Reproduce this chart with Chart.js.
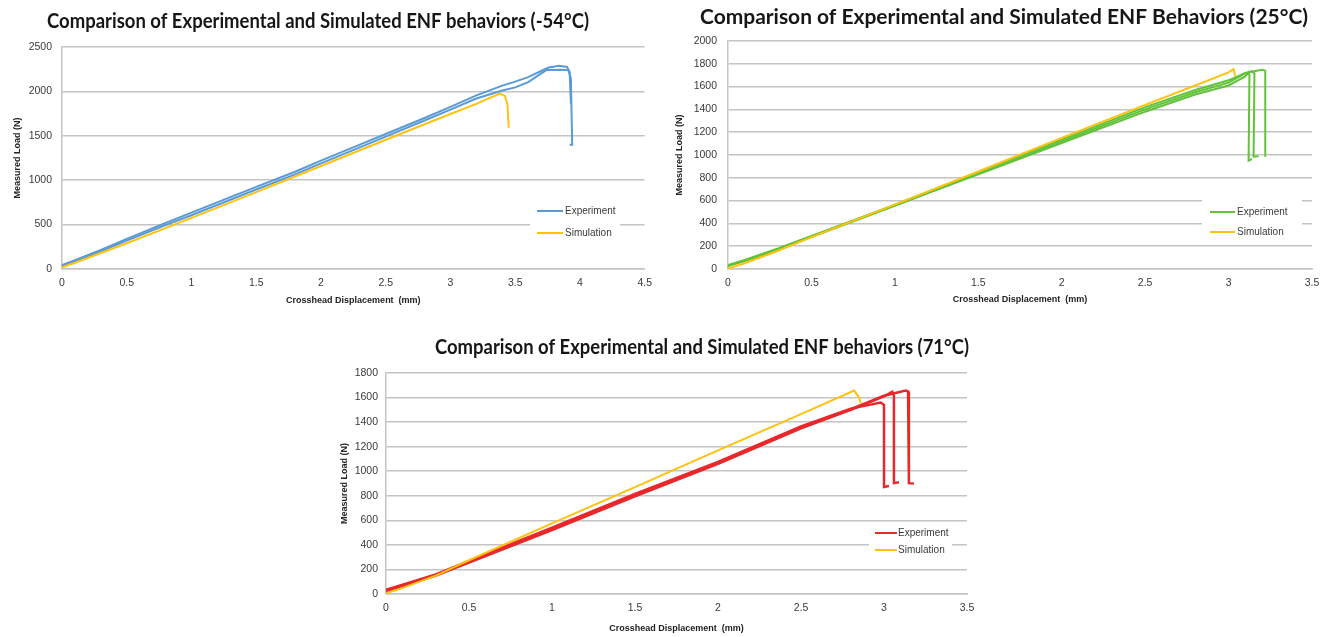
<!DOCTYPE html>
<html>
<head>
<meta charset="utf-8">
<title>ENF behaviors</title>
<script src="https://cdn.jsdelivr.net/npm/chart.js@4.4.1/dist/chart.umd.min.js"></script>
<style>
  body { margin: 0; background: #fff; }
  .panel { position: absolute; }
</style>
</head>
<body>
<div class="panel" style="left:0;top:0"><canvas id="chartCold" width="660" height="315"></canvas></div>
<div class="panel" style="left:660px;top:0"><canvas id="chartRoom" width="672" height="315"></canvas></div>
<div class="panel" style="left:330px;top:325px"><canvas id="chartHot" width="672" height="312"></canvas></div>
<script>
const seriesNames = ['Experiment', 'Simulation'];

// -54°C : displacement (mm) / load (N)
const coldExpA_x = [0, 0.1, 0.3, 0.5, 0.8, 1, 1.3, 1.5, 1.8, 2, 2.3, 2.5, 2.8, 3, 3.2, 3.4, 3.5, 3.6, 3.7, 3.76, 3.84, 3.9, 3.92, 3.93, 3.93];
const coldExpA_y = [45, 100, 215, 340, 520, 635, 810, 925, 1095, 1220, 1400, 1520, 1700, 1825, 1955, 2065, 2110, 2160, 2230, 2270, 2290, 2275, 2220, 1870, 1860];
const coldExpB_x = [0, 0.1, 0.3, 0.5, 0.8, 1, 1.3, 1.5, 1.8, 2, 2.3, 2.5, 2.8, 3, 3.2, 3.4, 3.5, 3.6, 3.74, 3.85, 3.91, 3.93, 3.94, 3.92];
const coldExpB_y = [30, 85, 200, 320, 495, 605, 780, 895, 1065, 1190, 1370, 1490, 1672, 1795, 1920, 2010, 2045, 2105, 2240, 2245, 2240, 2150, 1400, 1400];
const coldSim_x = [0, 0.1, 0.3, 0.5, 1, 1.5, 2, 2.5, 2.8, 3, 3.2, 3.38, 3.42, 3.44, 3.45];
const coldSim_y = [20, 70, 180, 290, 575, 865, 1160, 1455, 1630, 1745, 1860, 1975, 1950, 1850, 1590];
const coldTicksX = [0, 0.5, 1, 1.5, 2, 2.5, 3, 3.5, 4, 4.5];
const coldTicksY = [0, 500, 1000, 1500, 2000, 2500];

// 25°C
const roomExpA_x = [0, 0.1, 0.3, 0.5, 1, 1.5, 2, 2.5, 2.8, 3.0, 3.1, 3.12, 3.125, 3.12, 3.14];
const roomExpA_y = [35, 80, 180, 290, 560, 830, 1105, 1380, 1530, 1610, 1690, 1725, 1700, 950, 965];
const roomExpB_x = [0, 0.1, 0.3, 0.5, 1, 1.5, 2, 2.5, 2.8, 3, 3.1, 3.14, 3.155, 3.15, 3.18];
const roomExpB_y = [25, 70, 170, 280, 555, 835, 1120, 1400, 1550, 1635, 1715, 1735, 1715, 985, 990];
const roomExpC_x = [0, 0.1, 0.3, 0.5, 1, 1.5, 2, 2.5, 2.8, 3, 3.1, 3.2, 3.22, 3.22, 3.225];
const roomExpC_y = [30, 75, 175, 285, 565, 850, 1135, 1420, 1570, 1655, 1720, 1748, 1740, 994, 994];
const roomSim_x = [0, 0.1, 0.3, 0.5, 1, 1.5, 2, 2.5, 2.8, 3.0, 3.03, 3.04];
const roomSim_y = [5, 50, 160, 280, 565, 855, 1150, 1440, 1610, 1725, 1754, 1690];
const roomTicksX = [0, 0.5, 1, 1.5, 2, 2.5, 3, 3.5];
const roomTicksY = [0, 200, 400, 600, 800, 1000, 1200, 1400, 1600, 1800, 2000];

// 71°C
const hotExpA_x = [0, 0.1, 0.3, 0.5, 1, 1.5, 2, 2.5, 2.8, 2.98, 3.0, 3.0, 3.0, 3.03];
const hotExpA_y = [35, 75, 160, 270, 540, 815, 1075, 1365, 1510, 1559, 1540, 1500, 871, 880];
const hotExpB_x = [0, 0.1, 0.3, 0.5, 1, 1.5, 2, 2.5, 2.8, 3.0, 3.05, 3.06, 3.06, 3.09];
const hotExpB_y = [25, 65, 150, 255, 520, 795, 1060, 1350, 1500, 1610, 1648, 1615, 903, 910];
const hotExpC_x = [0, 0.1, 0.3, 0.5, 1, 1.5, 2, 2.5, 2.8, 3.0, 3.13, 3.145, 3.15, 3.15, 3.18];
const hotExpC_y = [30, 70, 155, 265, 530, 805, 1070, 1360, 1505, 1615, 1657, 1650, 1620, 903, 900];
const hotSim_x = [0, 0.1, 0.3, 0.5, 1, 1.5, 2, 2.5, 2.82, 2.85, 2.86];
const hotSim_y = [5, 50, 150, 275, 575, 870, 1170, 1465, 1657, 1600, 1554];
const hotTicksX = [0, 0.5, 1, 1.5, 2, 2.5, 3, 3.5];
const hotTicksY = [0, 200, 400, 600, 800, 1000, 1200, 1400, 1600, 1800];

const BLUE = '#5b9bd5', GREEN = '#62c23a', RED = '#e8282b', GOLD = '#ffc20e';
const GRID = '#c4c4c4';
const TEXT = '#3a3a3a';

function pts(xs, ys) {
  return xs.map((x, i) => ({ x: x, y: ys[i] }));
}

function line(label, color, xs, ys, width) {
  return {
    label: label,
    data: pts(xs, ys),
    showLine: true,
    borderColor: color,
    backgroundColor: color,
    borderWidth: width || 2,
    pointRadius: 0,
    fill: false,
    tension: 0
  };
}

// big bold heading, squeezed to fit its width
const headingPlugin = {
  id: 'heading',
  afterDraw(chart, args, opts) {
    const ctx = chart.ctx;
    ctx.save();
    ctx.font = 'bold 21px Lato';
    ctx.fillStyle = '#161616';
    ctx.textAlign = 'center';
    ctx.textBaseline = 'middle';
    ctx.fillText(opts.text, opts.x, opts.y, opts.maxWidth);
    ctx.restore();
  }
};

// legend drawn inside the plot on a white box
const boxLegend = {
  id: 'boxLegend',
  afterDatasetsDraw(chart, args, opts) {
    const { ctx, chartArea } = chart;
    const x0 = chartArea.left + opts.x;
    const y0 = chartArea.top + opts.y;
    ctx.save();
    ctx.fillStyle = '#fff';
    ctx.fillRect(x0, y0, opts.w, opts.h);
    ctx.font = '10px "Liberation Sans"';
    ctx.textBaseline = 'middle';
    ctx.textAlign = 'left';
    seriesNames.forEach((name, i) => {
      const ds = chart.data.datasets.find(d => d.label === name);
      const ly = y0 + opts.rows[i];
      ctx.strokeStyle = ds.borderColor;
      ctx.lineWidth = 2;
      ctx.beginPath();
      ctx.moveTo(x0 + opts.lineFrom, ly);
      ctx.lineTo(x0 + opts.lineTo, ly);
      ctx.stroke();
      ctx.fillStyle = TEXT;
      ctx.fillText(name, x0 + opts.textX, ly);
    });
    ctx.restore();
  }
};

function buildChart(id, p) {
  const tickFont = { family: 'Liberation Sans', size: 10.5 };
  const titleFont = { family: 'Liberation Sans', size: 9, weight: 'bold' };
  return new Chart(document.getElementById(id), {
    type: 'scatter',
    data: { datasets: p.datasets },
    plugins: [headingPlugin, boxLegend],
    options: {
      responsive: false,
      animation: false,
      layout: { padding: p.padding },
      plugins: {
        legend: { display: false },
        tooltip: { enabled: false },
        heading: p.heading,
        boxLegend: p.legend
      },
      scales: {
        x: {
          type: 'linear',
          min: p.xTicks[0],
          max: p.xTicks[p.xTicks.length - 1],
          afterBuildTicks: s => { s.ticks = p.xTicks.map(v => ({ value: v })); },
          afterFit: s => { s.height = p.xHeight; },
          grid: { display: false, drawTicks: false },
          border: { display: true, color: GRID, width: 1.5 },
          ticks: { padding: 8, font: tickFont, color: TEXT, maxRotation: 0, autoSkip: false, callback: v => String(v) },
          title: { display: true, text: 'Crosshead Displacement  (mm)', font: titleFont, color: '#222', padding: { top: 0, bottom: p.xTitlePad } }
        },
        y: {
          type: 'linear',
          min: p.yTicks[0],
          max: p.yTicks[p.yTicks.length - 1],
          afterBuildTicks: s => { s.ticks = p.yTicks.map(v => ({ value: v })); },
          afterFit: s => { s.width = p.yWidth; },
          grid: { color: GRID, lineWidth: 1.5, drawTicks: false },
          border: { display: true, color: GRID, width: 1.5 },
          ticks: { padding: p.yTickPad, font: tickFont, color: TEXT, callback: v => String(v) },
          title: { display: true, text: 'Measured Load (N)', font: titleFont, color: '#222', padding: { top: p.yTitlePad, bottom: 0 } }
        }
      }
    }
  });
}

buildChart('chartCold', {
  datasets: [
    line(seriesNames[1], GOLD, coldSim_x, coldSim_y),
    line(seriesNames[0], BLUE, coldExpA_x, coldExpA_y),
    line(seriesNames[0], BLUE, coldExpB_x, coldExpB_y)
  ],
  xTicks: coldTicksX,
  yTicks: coldTicksY,
  padding: { top: 47, right: 15, bottom: 0, left: 0 },
  yWidth: 62, xHeight: 46, yTickPad: 10, yTitlePad: 12.6, xTitlePad: 8.6,
  heading: { text: 'Comparison of Experimental and Simulated ENF behaviors (-54°C)', x: 318, y: 21, maxWidth: 542 },
  legend: { x: 468, y: 153, w: 90, h: 45, rows: [11, 33], lineFrom: 7, lineTo: 33, textX: 35 }
});

buildChart('chartRoom', {
  datasets: [
    line(seriesNames[1], GOLD, roomSim_x, roomSim_y),
    line(seriesNames[0], GREEN, roomExpA_x, roomExpA_y),
    line(seriesNames[0], GREEN, roomExpB_x, roomExpB_y),
    line(seriesNames[0], GREEN, roomExpC_x, roomExpC_y)
  ],
  xTicks: roomTicksX,
  yTicks: roomTicksY,
  padding: { top: 41, right: 20, bottom: 0, left: 0 },
  yWidth: 68, xHeight: 46, yTickPad: 11, yTitlePad: 14, xTitlePad: 9.6,
  heading: { text: 'Comparison of Experimental and Simulated ENF Behaviors (25°C)', x: 344, y: 17, maxWidth: 608 },
  legend: { x: 474, y: 159, w: 100, h: 45, rows: [12, 32], lineFrom: 8, lineTo: 33, textX: 35 }
});

buildChart('chartHot', {
  datasets: [
    line(seriesNames[1], GOLD, hotSim_x, hotSim_y),
    line(seriesNames[0], RED, hotExpA_x, hotExpA_y, 2.5),
    line(seriesNames[0], RED, hotExpB_x, hotExpB_y, 2.5),
    line(seriesNames[0], RED, hotExpC_x, hotExpC_y, 2.5)
  ],
  xTicks: hotTicksX,
  yTicks: hotTicksY,
  padding: { top: 48, right: 35, bottom: 0, left: 0 },
  yWidth: 56, xHeight: 43, yTickPad: 8, yTitlePad: 9.4, xTitlePad: 3.3,
  heading: { text: 'Comparison of Experimental and Simulated ENF behaviors (71°C)', x: 372, y: 22, maxWidth: 534 },
  legend: { x: 483, y: 150, w: 83, h: 36, rows: [10, 27], lineFrom: 6, lineTo: 28, textX: 29 }
});
</script>
</body>
</html>
